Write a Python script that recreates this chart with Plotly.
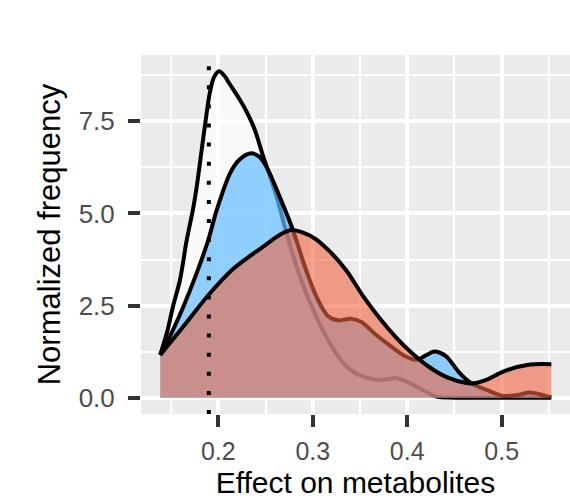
import plotly.graph_objects as go

# ---- data ----
white_x = [0.1385, 0.146, 0.152, 0.1595, 0.1666, 0.1735, 0.1773, 0.1824, 0.1865, 0.1912, 0.1955,
           0.2007, 0.2060, 0.2124, 0.223, 0.2318, 0.2388, 0.2476, 0.2618, 0.2724, 0.2865, 0.3005,
           0.318, 0.336, 0.3535, 0.371, 0.389, 0.403, 0.42, 0.431, 0.45, 0.5, 0.5525]
white_y = [1.16, 1.8, 2.47, 3.2, 4.28, 5.15, 5.75, 6.72, 7.5, 8.3, 8.7,
           8.86, 8.75, 8.5, 8.08, 7.67, 7.26, 6.54, 5.45, 4.45, 3.28, 2.38,
           1.48, 0.84, 0.57, 0.48, 0.53, 0.39, 0.16, 0.03, 0.0, 0.0, 0.0]

blue_x = [0.1385, 0.147, 0.163, 0.1771, 0.1894, 0.1983, 0.2124, 0.222, 0.2335, 0.243, 0.251,
          0.265, 0.2777, 0.2935, 0.305, 0.316, 0.327, 0.34, 0.352, 0.365, 0.38, 0.397, 0.41,
          0.42, 0.4275, 0.4345, 0.4417, 0.4558, 0.468, 0.484, 0.5016, 0.516, 0.53, 0.544, 0.5525]
blue_y = [1.16, 1.57, 2.47, 3.38, 4.28, 5.09, 6.09, 6.45, 6.63, 6.55, 6.27,
          5.45, 4.64, 3.42, 2.68, 2.22, 2.1, 2.14, 2.05, 1.75, 1.45, 1.14, 1.03,
          1.15, 1.25, 1.22, 1.11, 0.66, 0.39, 0.21, 0.05, 0.07, 0.14, 0.07, 0.01]

red_x = [0.1385, 0.163, 0.19, 0.2159, 0.2476, 0.2653, 0.2777, 0.3005, 0.318, 0.3359, 0.3535,
         0.371, 0.3888, 0.4063, 0.424, 0.4417, 0.4628, 0.4698, 0.485, 0.5016, 0.53, 0.5525]
red_y = [1.16, 1.93, 2.8, 3.5, 4.1, 4.42, 4.55, 4.35, 3.97, 3.44, 2.75,
         2.15, 1.62, 1.18, 0.82, 0.56, 0.4, 0.39, 0.5, 0.71, 0.9, 0.91]

threshold_x = 0.19

x_ticks = [0.2, 0.3, 0.4, 0.5]
x_ticklabels = ["0.2", "0.3", "0.4", "0.5"]
x_minor = [0.15, 0.25, 0.35, 0.45, 0.55]
y_ticks = [0, 2.5, 5, 7.5]
y_ticklabels = ["0.0", "2.5", "5.0", "7.5"]
y_minor = [1.25, 3.75, 6.25, 8.75]

FONT = "Liberation Sans, Arial, Helvetica, sans-serif"

fig = go.Figure()
series = [
    (white_x, white_y, "rgba(255,255,255,0.7)"),
    (blue_x, blue_y, "rgba(100,190,255,0.7)"),
    (red_x, red_y, "rgba(240,100,65,0.6)"),
]
for xs, ys, fc in series:
    fig.add_trace(go.Scatter(
        x=xs, y=ys, mode="lines", fill="tozeroy", fillcolor=fc,
        line=dict(color="black", width=4, shape="spline", smoothing=0.9),
        showlegend=False, hoverinfo="skip"))

fig.add_shape(type="line", xref="x", yref="paper", x0=threshold_x, x1=threshold_x,
              y0=0, y1=1, line=dict(color="black", width=4, dash="4px,15.1px"), layer="above")

fig.update_layout(
    width=570, height=499,
    margin=dict(l=141, r=0, t=55, b=85, autoexpand=False),
    paper_bgcolor="white", plot_bgcolor="#EBEBEB",
    font=dict(family=FONT),
    showlegend=False,
)
fig.update_xaxes(
    range=[0.11818, 0.5723], tickvals=x_ticks, ticktext=x_ticklabels,
    ticks="outside", ticklen=12, tickwidth=4, tickcolor="#333333",
    tickfont=dict(size=25, color="#4D4D4D", family=FONT),
    ticklabelstandoff=3,
    showgrid=True, gridcolor="white", gridwidth=3.5, zeroline=False, showline=False,
    minor=dict(tickvals=x_minor, showgrid=True, gridcolor="white", gridwidth=2),
    title=dict(text="Effect on metabolites", font=dict(size=30, color="black", family=FONT), standoff=13),
    automargin=False,
)
fig.update_yaxes(
    range=[-0.442, 9.30], tickvals=y_ticks, ticktext=y_ticklabels,
    ticks="outside", ticklen=12, tickwidth=4, tickcolor="#333333",
    tickfont=dict(size=26, color="#4D4D4D", family=FONT),
    ticklabelstandoff=8,
    showgrid=True, gridcolor="white", gridwidth=3.5, zeroline=False, showline=False,
    minor=dict(tickvals=y_minor, showgrid=True, gridcolor="white", gridwidth=2),
    title=dict(text="Normalized frequency", font=dict(size=31, color="black", family=FONT), standoff=8),
    automargin=False,
)

fig.write_html("out.html", config={"displayModeBar": False},
               post_script="document.body.style.margin='0px';document.body.style.padding='0px';")
